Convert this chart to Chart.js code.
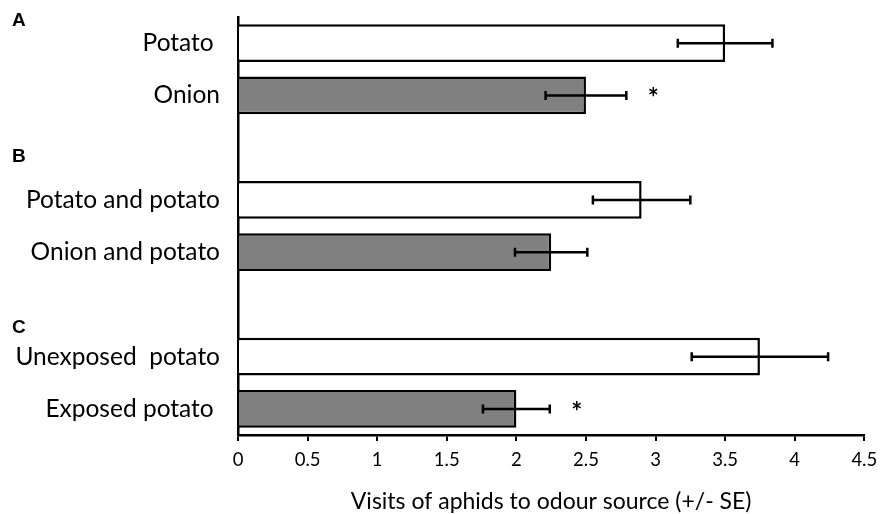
<!DOCTYPE html>
<html>
<head>
<meta charset="utf-8">
<script src="https://cdn.jsdelivr.net/npm/chart.js@4/dist/chart.umd.min.js"></script>
<style>
  body { margin: 0; background: #fff; }
</style>
</head>
<body>
<canvas id="chart" width="881" height="514"></canvas>
<script>
// categories, empty slots separate the three experiments
const categories = ["Potato ", "Onion", "", "Potato and potato", "Onion and potato", "", "Unexposed  potato", "Exposed potato "];
const means = [3.5, 2.5, null, 2.9, 2.25, null, 3.75, 2.0];
const errors = [0.34, 0.29, null, 0.35, 0.26, null, 0.49, 0.24];
const significant = [false, true, false, false, false, false, false, true];
const barColors = ["#ffffff", "#808080", "#ffffff", "#ffffff", "#808080", "#ffffff", "#ffffff", "#808080"];
const groupLabels = ["A", "B", "C"];
const xTicks = [0, 0.5, 1, 1.5, 2, 2.5, 3, 3.5, 4, 4.5];

// error bars, asterisks and the A/B/C panel letters
const extrasPlugin = {
  id: "extras",
  afterDatasetsDraw(chart) {
    const ctx = chart.ctx;
    const x = chart.scales.x;
    const y = chart.scales.y;
    ctx.save();
    ctx.strokeStyle = "#000";
    ctx.lineWidth = 2.5;
    means.forEach((m, i) => {
      if (m === null) return;
      const yc = y.getPixelForValue(i);
      const x1 = x.getPixelForValue(m - errors[i]);
      const x2 = x.getPixelForValue(m + errors[i]);
      ctx.beginPath();
      ctx.moveTo(x1, yc);
      ctx.lineTo(x2, yc);
      ctx.moveTo(x1, yc - 4.5);
      ctx.lineTo(x1, yc + 4.5);
      ctx.moveTo(x2, yc - 4.5);
      ctx.lineTo(x2, yc + 4.5);
      ctx.stroke();
      if (significant[i]) {
        ctx.fillStyle = "#000";
        ctx.font = "bold 26px Lato";
        ctx.textAlign = "center";
        ctx.textBaseline = "alphabetic";
        ctx.fillText("*", x2 + 27, yc + 12);
      }
    });
    // panel letters, placed between category slots
    const letterPos = [-0.42, 2.17, 5.45];
    ctx.fillStyle = "#000";
    ctx.font = "bold 19px Arial, 'Liberation Sans', sans-serif";
    ctx.textAlign = "left";
    ctx.textBaseline = "middle";
    groupLabels.forEach((g, k) => {
      ctx.fillText(g, 12, y.getPixelForValue(letterPos[k]));
    });
    ctx.restore();
  }
};

const ctx = document.getElementById("chart").getContext("2d");
new Chart(ctx, {
  type: "bar",
  data: {
    labels: categories,
    datasets: [
      {
        data: means,
        backgroundColor: barColors,
        borderColor: "#000",
        borderWidth: 2.5,
        borderSkipped: "start",
        barPercentage: 0.727,
        categoryPercentage: 1.0,
      },
    ],
  },
  options: {
    indexAxis: "y",
    responsive: false,
    animation: false,
    devicePixelRatio: 1,
    layout: {
      padding: { top: 17, right: 16.7, bottom: 0, left: 0 },
    },
    scales: {
      x: {
        min: 0,
        max: 4.5,
        afterBuildTicks: (scale) => {
          scale.ticks = xTicks.map((v) => ({ value: v }));
        },
        afterFit: (scale) => {
          scale.height = 79;
          scale.paddingLeft = 0;
          scale.paddingRight = 0;
        },
        grid: {
          display: true,
          drawOnChartArea: false,
          drawTicks: true,
          tickLength: 6,
          color: "#000",
          lineWidth: 2,
        },
        border: { display: true, color: "#000", width: 2.5 },
        ticks: {
          color: "#000",
          padding: 8,
          maxRotation: 0,
          font: { family: "Lato", size: 18.5 },
          callback: (value) => String(value),
        },
        title: {
          display: true,
          text: "Visits of aphids to odour source (+/- SE)",
          color: "#000",
          font: { family: "Lato", size: 23, lineHeight: 1.1 },
          padding: { top: 0, bottom: 0 },
        },
      },
      y: {
        afterFit: (scale) => {
          scale.width = 238;
          scale.paddingTop = 0;
          scale.paddingBottom = 0;
        },
        grid: { display: false, drawTicks: false },
        border: { display: true, color: "#000", width: 2.5 },
        ticks: {
          color: "#000",
          padding: 18,
          autoSkip: false,
          font: { family: "Lato", size: 24.5 },
        },
      },
    },
    plugins: {
      legend: { display: false },
      tooltip: { enabled: false },
    },
  },
  plugins: [extrasPlugin],
});
</script>
</body>
</html>
